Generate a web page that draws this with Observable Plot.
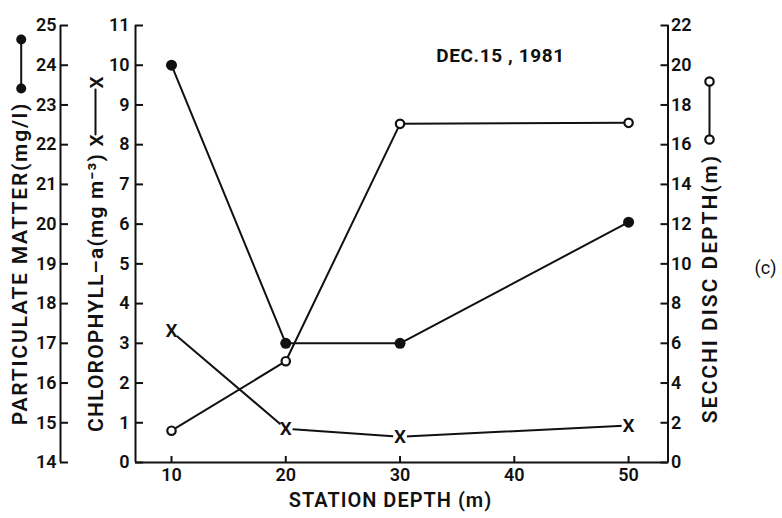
<!DOCTYPE html>
<html><head><meta charset="utf-8">
<script src="https://cdn.jsdelivr.net/npm/d3@7"></script>
<script src="https://cdn.jsdelivr.net/npm/@observablehq/plot@0.6"></script>
<style>body{margin:0;background:#fff}</style>
</head><body><div id="chart"></div>
<script>
// ---- data ----
const stationDepth = [10, 20, 30, 50];
const particulate = [24.0, 17.0, 17.0, 20.05];   // mg/l  (filled dots)
const chlorophyll = [3.3, 0.85, 0.65, 0.93];      // mg m^-3 (X)
const secchi = [1.6, 5.1, 17.05, 17.1];           // m (open circles)
const xTicks = [10, 20, 30, 40, 50];
const particulateTicks = [14, 15, 16, 17, 18, 19, 20, 21, 22, 23, 24, 25];
const chlorophyllTicks = [0, 1, 2, 3, 4, 5, 6, 7, 8, 9, 10, 11];
const secchiTicks = [0, 2, 4, 6, 8, 10, 12, 14, 16, 18, 20, 22];
const xDomain = [6.85, 53.45];
const titleText = "DEC.15 , 1981";
const xLabel = "STATION DEPTH (m)";
const pLabel = "PARTICULATE MATTER(mg/l)";
const cLabel = "CHLOROPHYLL\u2013a(mg m\u207B\u00B3)";
const sLabel = "SECCHI DISC DEPTH(m)";
const panelLabel = "(c)";

// particulate and secchi are drawn on the chlorophyll y scale (0..11)
const pOffset = 14, sFactor = 2;
const rowsP = stationDepth.map((x, i) => ({x, y: particulate[i] - pOffset}));
const rowsC = stationDepth.map((x, i) => ({x, y: chlorophyll[i]}));
const rowsS = stationDepth.map((x, i) => ({x, y: secchi[i] / sFactor}));

const FONT = "Roboto, 'DejaVu Sans Condensed', sans-serif";
const ML = 135, MT = 25;
const vline = {draw(ctx, l) { ctx.moveTo(0, 0); ctx.lineTo(0, l); }};
const at = (px, py) => ({frameAnchor: "top-left", dx: px - ML, dy: py - MT, textAnchor: "middle", lineAnchor: "middle"});
const INK = "#111";
const tickFont = {fontSize: 18, fontWeight: 600};

const plot = Plot.plot({
  width: 782, height: 518,
  marginLeft: ML, marginRight: 114.5, marginTop: MT, marginBottom: 56,
  style: {fontFamily: FONT, color: INK, background: "#fff"},
  x: {domain: xDomain, label: null},
  y: {domain: [0, 11], label: null},
  marks: [
    // axis lines
    Plot.ruleX([xDomain[0]], {dx: -75, stroke: INK, strokeWidth: 2}),
    Plot.ruleX([xDomain[0]], {stroke: INK, strokeWidth: 2}),
    Plot.ruleX([xDomain[1]], {stroke: INK, strokeWidth: 2}),
    Plot.ruleY([0], {stroke: INK, strokeWidth: 2}),
    // axes
    Plot.axisY(particulateTicks.map(v => v - pOffset), {anchor: "left", dx: -75, tickSize: -8, tickPadding: 12,
      strokeWidth: 2, tickFormat: d => d + pOffset, ...tickFont, label: null}),
    Plot.axisY(chlorophyllTicks, {anchor: "left", tickSize: -8, tickPadding: 14,
      strokeWidth: 2, tickFormat: d => d, ...tickFont, label: null}),
    Plot.axisY(secchiTicks.map(v => v / sFactor), {anchor: "right", tickSize: -8, tickPadding: 11,
      strokeWidth: 2, tickFormat: d => d * sFactor, ...tickFont, label: null}),
    Plot.axisX(xTicks, {anchor: "bottom", tickSize: -6, tickPadding: 12, strokeWidth: 2,
      tickFormat: d => d, ...tickFont, label: null}),
    // series
    Plot.line(rowsP, {x: "x", y: "y", stroke: INK, strokeWidth: 2}),
    Plot.line(rowsS, {x: "x", y: "y", stroke: INK, strokeWidth: 2}),
    Plot.line(rowsC, {x: "x", y: "y", stroke: INK, strokeWidth: 2}),
    Plot.dot(rowsP, {x: "x", y: "y", r: 5.5, fill: INK}),
    Plot.dot(rowsS, {x: "x", y: "y", r: 4.2, fill: "#fff", stroke: INK, strokeWidth: 2.2}),
    Plot.dot(rowsC, {x: "x", y: "y", r: 7, fill: "#fff"}),
    Plot.text(rowsC, {x: "x", y: "y", text: () => "X", fontSize: 19, fontWeight: 600, fill: INK, lineAnchor: "middle"}),
    // titles
    Plot.text([titleText], {...at(500, 55), fontSize: 19, fontWeight: 700, fill: INK}),
    Plot.text([xLabel], {...at(390, 500), fontSize: 20, fontWeight: 600, fill: INK}),
    Plot.text([panelLabel], {...at(765, 268), fontSize: 18, fill: INK}),
    Plot.text([pLabel], {...at(20, 263), rotate: -90, fontSize: 21, fontWeight: 600, fill: INK}),
    Plot.text([cLabel], {...at(96, 292), rotate: -90, fontSize: 21, fontWeight: 600, fill: INK}),
    Plot.text([sLabel], {...at(710, 288), rotate: -90, fontSize: 21, fontWeight: 600, fill: INK}),
    // legend keys
    Plot.vector([0], {...at(20.7, 39), length: 49, anchor: "start", shape: vline, stroke: INK, strokeWidth: 2}),
    Plot.dot([0], {...at(20.7, 39), r: 5, fill: INK}),
    Plot.dot([0], {...at(20.7, 88), r: 5, fill: INK}),
    Plot.vector([0], {...at(95, 89), length: 45, anchor: "start", shape: vline, stroke: INK, strokeWidth: 2}),
    Plot.text(["X"], {...at(96, 82), rotate: -90, fontSize: 19, fontWeight: 600, fill: INK}),
    Plot.text(["X"], {...at(96, 140), rotate: -90, fontSize: 19, fontWeight: 600, fill: INK}),
    Plot.vector([0], {...at(709, 81), length: 58, anchor: "start", shape: vline, stroke: INK, strokeWidth: 2}),
    Plot.dot([0], {...at(709, 81), r: 4.2, fill: "#fff", stroke: INK, strokeWidth: 2.2}),
    Plot.dot([0], {...at(709, 139), r: 4.2, fill: "#fff", stroke: INK, strokeWidth: 2.2})
  ]
});
// letter spacing for the wide, spaced lettering of the original titles
const spacing = new Map([[pLabel, 1.8], [cLabel, 1.2], [sLabel, 2.0], [xLabel, 1], [titleText, 0.6]]);
d3.select(plot).selectAll("text").each(function() {
  const s = spacing.get(this.textContent);
  if (s != null) this.setAttribute("letter-spacing", s);
});
document.getElementById("chart").appendChild(plot);
</script>
</body></html>
